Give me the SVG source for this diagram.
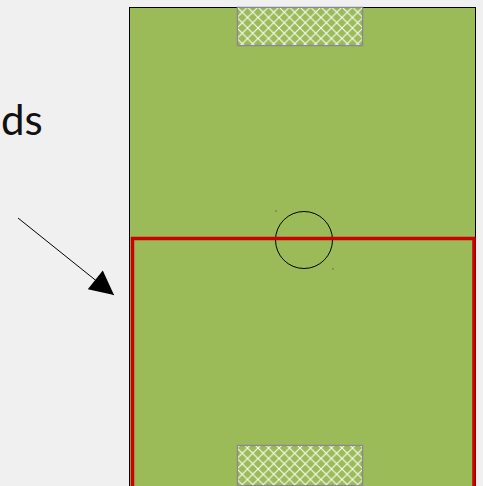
<svg xmlns="http://www.w3.org/2000/svg" width="483" height="486" viewBox="0 0 483 486">
<defs>
<pattern id="net" width="10.5" height="10.5" patternUnits="userSpaceOnUse" x="237" y="7">
<path d="M0,0 L10.5,10.5 M10.5,0 L0,10.5" stroke="#ffffff" stroke-width="1" fill="none"/>
</pattern>
<marker id="ah" viewBox="0 0 10 10" refX="10" refY="5" markerWidth="34" markerHeight="24" markerUnits="userSpaceOnUse" orient="auto">
<path d="M0,0 L10,5 L0,10 Z" fill="#000"/>
</marker>
<style>
.goal{fill:#9bbb59;stroke:#8a8a8a;stroke-width:1.5}
.net{fill:url(#net);stroke:none}
</style>
</defs>
<rect width="483" height="486" fill="#f0f0f0"/>
<text x="1" y="135" font-family="Lato, 'Open Sans', sans-serif" font-size="42" fill="#111">ds</text>
<g id="field">
<rect x="129.5" y="7.5" width="346" height="490" fill="#9bbb59" stroke="#000" stroke-width="1"/>
</g>
<g id="goal-top">
<rect class="goal" x="237.5" y="7.5" width="125" height="38"/>
<rect class="net" x="238" y="8" width="124" height="37"/>
</g>
<g id="goal-bottom">
<rect class="goal" x="237.5" y="445.5" width="125" height="40"/>
<rect class="net" x="238" y="446" width="124" height="39"/>
</g>
<g id="center-circle">
<circle cx="304" cy="240" r="28.5" fill="none" stroke="#000" stroke-width="1"/>
<rect x="275.5" y="210.5" width="1" height="1" fill="#333"/>
<rect x="332.5" y="268.5" width="1" height="1" fill="#333"/>
</g>
<g id="half-highlight">
<rect x="132.5" y="238.5" width="341.5" height="260" fill="none" stroke="#cc0000" stroke-width="3.5"/>
</g>
<g id="connectors">
<line x1="18" y1="218" x2="114" y2="295" stroke="#000" stroke-width="1" marker-end="url(#ah)"/>
</g>
</svg>
